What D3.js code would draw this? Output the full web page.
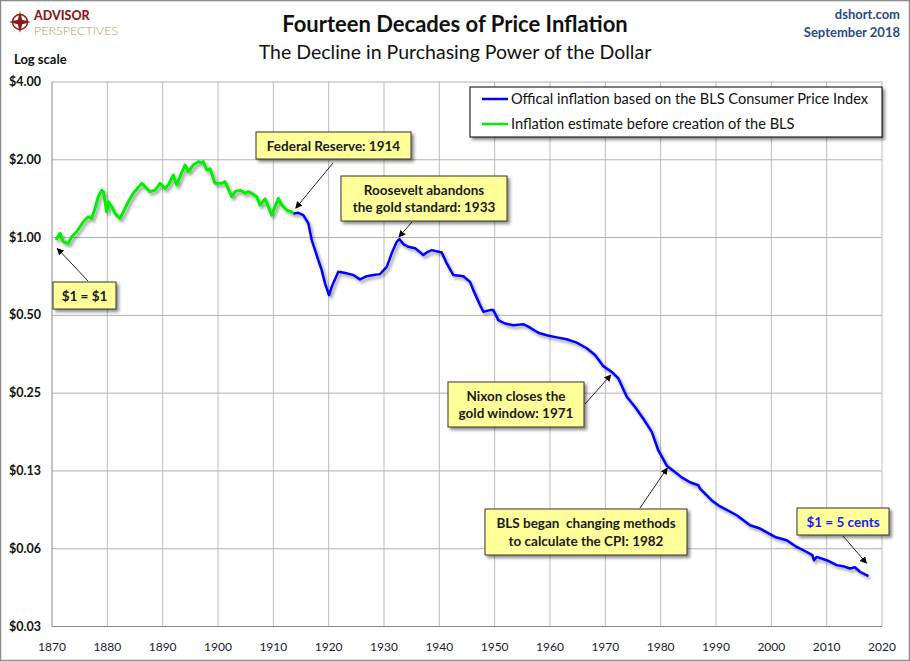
<!DOCTYPE html>
<html>
<head>
<meta charset="utf-8">
<script src="https://cdn.jsdelivr.net/npm/d3@7"></script>
<style>
  body { margin: 0; background: #fff; }
  svg { font-family: Lato, "Open Sans", sans-serif; }
</style>
</head>
<body>
<script>
// estimate before BLS (green)
const greenYears = [1870.7, 1871.45, 1872.04, 1872.95, 1873.56, 1874.46, 1875.66, 1876.56, 1877.17, 1877.77,
  1878.37, 1878.98, 1879.27, 1879.89, 1880.18, 1880.79, 1881.39, 1882.29, 1882.89, 1883.79, 1884.69,
  1886.21, 1887.12, 1887.71, 1888.62, 1889.52, 1890.42, 1891.02, 1891.92, 1892.54, 1893.13, 1894.04,
  1894.63, 1895.54, 1896.44, 1897.05, 1897.35, 1897.96, 1898.56, 1899.46, 1900.67, 1901.27, 1902.48,
  1903.07, 1903.98, 1904.88, 1905.48, 1906.09, 1906.99, 1907.59, 1908.5, 1909.71, 1910.9, 1911.52,
  1912.42, 1913.32, 1913.6];
const greenValues = [0.98, 1.038, 0.963, 0.949, 1.007, 1.053, 1.151, 1.204, 1.187, 1.297,
  1.439, 1.527, 1.51, 1.258, 1.376, 1.316, 1.24, 1.187, 1.258, 1.376, 1.484,
  1.621, 1.551, 1.505, 1.527, 1.621, 1.551, 1.597, 1.746, 1.597, 1.72, 1.908,
  1.798, 1.908, 1.966, 1.944, 1.966, 1.825, 1.846, 1.621, 1.621, 1.645, 1.439,
  1.505, 1.527, 1.484, 1.505, 1.484, 1.439, 1.336, 1.412, 1.222, 1.418, 1.336,
  1.278, 1.258, 1.24];

// official CPI based series (blue)
const blueYears = [1913.6, 1914.51, 1915.42, 1916.32, 1916.94, 1918.13, 1918.74, 1919.34, 1920.06, 1920.55,
  1921.74, 1923.26, 1924.45, 1925.67, 1926.88, 1928.07, 1929.28, 1930.49, 1931.39, 1932.3, 1932.77,
  1933.49, 1934.4, 1935.61, 1937.11, 1937.72, 1938.62, 1940.43, 1941.34, 1942.53, 1944.34, 1945.55,
  1946.14, 1947.35, 1947.95, 1949.16, 1949.76, 1950.66, 1951.87, 1953.37, 1955.18, 1956.08, 1957.89,
  1959.41, 1961.22, 1963.02, 1964.83, 1966.64, 1968.14, 1969.64, 1971.16, 1972.35, 1973.87, 1975.37,
  1976.87, 1978.39, 1979.58, 1981.1, 1982.29, 1983.81, 1985.31, 1986.81, 1987.11, 1989.23, 1990.42,
  1993.75, 1996.15, 1997.96, 2000.67, 2002.78, 2004.59, 2006.4, 2007.4, 2007.72, 2008.2, 2010.01,
  2011.82, 2012.96, 2014.2, 2015.1, 2016.0, 2017.55];
const blueValues = [1.24, 1.247, 1.222, 1.135, 0.978, 0.818, 0.748, 0.665, 0.599, 0.645,
  0.737, 0.727, 0.716, 0.689, 0.709, 0.716, 0.722, 0.77, 0.869, 0.963, 0.987,
  0.944, 0.921, 0.91, 0.856, 0.876, 0.894, 0.876, 0.794, 0.716, 0.708, 0.674,
  0.626, 0.548, 0.516, 0.524, 0.524, 0.479, 0.465, 0.458, 0.462, 0.452, 0.428,
  0.419, 0.411, 0.404, 0.392, 0.373, 0.351, 0.318, 0.302, 0.285, 0.242, 0.221,
  0.199, 0.177, 0.15, 0.131, 0.1253, 0.118, 0.113, 0.11, 0.1067, 0.0961, 0.092,
  0.0842, 0.077, 0.0748, 0.0694, 0.0674, 0.0635, 0.0607, 0.059, 0.0564, 0.0581, 0.0564,
  0.054, 0.0535, 0.0524, 0.053, 0.0509, 0.049];

const xTicks = [1870, 1880, 1890, 1900, 1910, 1920, 1930, 1940, 1950, 1960, 1970, 1980, 1990, 2000, 2010, 2020];
const yTicks = [4, 2, 1, 0.5, 0.25, 0.125, 0.0625, 0.03125];
const yTickLabels = ["$4.00", "$2.00", "$1.00", "$0.50", "$0.25", "$0.13", "$0.06", "$0.03"];

const legendLabels = ["Offical inflation based on the BLS Consumer Price Index", "Inflation estimate before creation of the BLS"];

// callouts: text lines, the year/value the arrow points at
const notes = [
  { lines: ["$1 = $1"], year: 1870.96, value: 0.908, box: [53, 282, 63, 27], from: [88, 281] },
  { lines: ["Federal Reserve: 1914"], year: 1914.05, value: 1.3, box: [256, 132, 155, 27], from: [333, 163] },
  { lines: ["Roosevelt abandons", "the gold standard: 1933"], year: 1932.7, value: 1.006, box: [341, 176, 166, 45], from: [412, 222] },
  { lines: ["Nixon closes the", "gold window: 1971"], year: 1971, value: 0.294, box: [448, 382, 136, 45], from: [585, 404] },
  { lines: ["BLS began  changing methods", "to calculate the CPI: 1982"], year: 1981.2, value: 0.1283, box: [485, 509, 202, 46], from: [640, 508] },
  { lines: ["$1 = 5 cents"], year: 2017.2, value: 0.0549, box: [797, 508, 92, 27], from: [843, 536], color: "#1a1aff" },
];

const W = 910, H = 661;
const svg = d3.select("body").append("svg").attr("width", W).attr("height", H);

const defs = svg.append("defs");
const shadow = defs.append("filter").attr("id", "shadow")
  .attr("x", "-10%").attr("y", "-10%").attr("width", "130%").attr("height", "140%");
shadow.append("feDropShadow").attr("dx", 2.5).attr("dy", 2.5).attr("stdDeviation", 1.6)
  .attr("flood-color", "#000").attr("flood-opacity", 0.45);
const lineShadow = defs.append("filter").attr("id", "lineShadow")
  .attr("x", "-5%").attr("y", "-5%").attr("width", "110%").attr("height", "110%");
lineShadow.append("feDropShadow").attr("dx", 2).attr("dy", 2.5).attr("stdDeviation", 1.5)
  .attr("flood-color", "#000").attr("flood-opacity", 0.4);
defs.append("marker").attr("id", "arrow").attr("viewBox", "0 0 10 10")
  .attr("refX", 9).attr("refY", 5).attr("markerWidth", 7).attr("markerHeight", 7)
  .attr("orient", "auto-start-reverse").attr("markerUnits", "userSpaceOnUse")
  .append("path").attr("d", "M0,0 L10,5 L0,10 z").attr("fill", "#000");

svg.append("rect").attr("x", 0.5).attr("y", 0.5).attr("width", W - 1).attr("height", H - 1)
  .attr("fill", "#fff").attr("stroke", "#8c8c8c").attr("stroke-width", 1.5);

const x = d3.scaleLinear().domain([1870, 2020]).range([52, 882]);
const y = d3.scaleLog().base(2).domain([0.03125, 4]).range([626.5, 82]);

// grid
svg.append("g").selectAll("line").data(xTicks.slice(1)).join("line")
  .attr("x1", d => x(d)).attr("x2", d => x(d)).attr("y1", 82).attr("y2", 626.5)
  .attr("stroke", "#bdbdbd").attr("stroke-width", 1);
svg.append("g").selectAll("line").data(yTicks.slice(0, -1)).join("line")
  .attr("x1", 52).attr("x2", 882).attr("y1", d => y(d)).attr("y2", d => y(d))
  .attr("stroke", "#b0b0b0").attr("stroke-width", 1);
svg.append("line").attr("x1", 52).attr("x2", 52).attr("y1", 82).attr("y2", 626.5).attr("stroke", "#888");
svg.append("line").attr("x1", 52).attr("x2", 882).attr("y1", 626.5).attr("y2", 626.5).attr("stroke", "#888");

// axes labels
svg.append("g").selectAll("text").data(yTicks).join("text")
  .attr("x", 41).attr("y", d => y(d) + 4).attr("text-anchor", "end")
  .attr("font-size", 12.5).attr("font-weight", "bold").attr("fill", "#111")
  .text((d, i) => yTickLabels[i]);
svg.append("g").selectAll("text").data(xTicks).join("text")
  .attr("x", d => x(d)).attr("y", 651).attr("text-anchor", "middle")
  .attr("font-size", 12).attr("fill", "#1a1a33")
  .text(d => d);

// lines
const line = d3.line().x(d => x(d[0])).y(d => y(d[1]));
svg.append("path").datum(blueYears.map((d, i) => [d, blueValues[i]]))
  .attr("d", line).attr("fill", "none").attr("stroke", "#0000ff").attr("stroke-width", 2.5)
  .attr("stroke-linejoin", "round").attr("filter", "url(#lineShadow)");
svg.append("path").datum(greenYears.map((d, i) => [d, greenValues[i]]))
  .attr("d", line).attr("fill", "none").attr("stroke", "#00ee00").attr("stroke-width", 3)
  .attr("stroke-linejoin", "round").attr("filter", "url(#lineShadow)");

// legend
const lg = svg.append("g");
lg.append("rect").attr("x", 470).attr("y", 87).attr("width", 412).attr("height", 50)
  .attr("fill", "#fff").attr("stroke", "#000").attr("stroke-width", 1).attr("filter", "url(#shadow)");
[["#0000ff", 99], ["#00ee00", 124]].forEach(([c, yy], i) => {
  lg.append("line").attr("x1", 482).attr("x2", 508).attr("y1", yy).attr("y2", yy)
    .attr("stroke", c).attr("stroke-width", 2.5);
  lg.append("text").attr("x", 511).attr("y", yy + 5).attr("font-size", 14.6).attr("fill", "#111")
    .text(legendLabels[i]);
});

// callouts
notes.forEach(n => {
  svg.append("line").attr("x1", n.from[0]).attr("y1", n.from[1])
    .attr("x2", x(n.year)).attr("y2", y(n.value))
    .attr("stroke", "#222").attr("stroke-width", 1).attr("marker-end", "url(#arrow)");
  const [bx, by, bw, bh] = n.box;
  svg.append("rect").attr("x", bx).attr("y", by).attr("width", bw).attr("height", bh)
    .attr("fill", "#ffff99").attr("stroke", "#333").attr("stroke-width", 1).attr("filter", "url(#shadow)");
  const t = svg.append("text").attr("text-anchor", "middle").attr("font-size", 13.5)
    .attr("font-weight", "bold").attr("fill", n.color || "#1a1a1a");
  const n0 = n.lines.length;
  n.lines.forEach((s, i) => {
    t.append("tspan").attr("x", bx + bw / 2)
      .attr("y", by + bh / 2 + 5 + (i - (n0 - 1) / 2) * 17.5)
      .attr("xml:space", "preserve").text(s);
  });
});

// titles
svg.append("text").attr("x", 455).attr("y", 32).attr("text-anchor", "middle")
  .attr("font-size", 22).attr("font-weight", "bold").attr("fill", "#111")
  .text("Fourteen Decades of Price Inflation");
svg.append("text").attr("x", 455).attr("y", 59).attr("text-anchor", "middle")
  .attr("font-size", 19.5).attr("fill", "#111")
  .text("The Decline in Purchasing Power of the Dollar");
svg.append("text").attr("x", 14).attr("y", 64).attr("font-size", 13).attr("font-weight", "bold")
  .attr("fill", "#111").text("Log scale");
svg.append("text").attr("x", 900).attr("y", 19).attr("text-anchor", "end").attr("font-size", 13)
  .attr("font-weight", "bold").attr("fill", "#2a4a8a").text("dshort.com");
svg.append("text").attr("x", 900).attr("y", 37).attr("text-anchor", "end").attr("font-size", 13)
  .attr("font-weight", "bold").attr("fill", "#2a4a8a").text("September 2018");

// logo
const logo = svg.append("g").attr("transform", "translate(20,22)");
logo.append("circle").attr("r", 7.5).attr("fill", "none").attr("stroke", "#8b1a1a").attr("stroke-width", 1.5);
logo.append("path").attr("d", "M0,-11 L2.2,-2.2 L11,0 L2.2,2.2 L0,11 L-2.2,2.2 L-11,0 L-2.2,-2.2 Z")
  .attr("fill", "#8b1a1a");
svg.append("text").attr("x", 34).attr("y", 20).attr("font-size", 12.5).attr("font-weight", "900")
  .attr("fill", "#8b1a1a").text("ADVISOR");
svg.append("text").attr("x", 34).attr("y", 35).attr("font-size", 12.5).attr("font-weight", "300")
  .attr("fill", "#b79a56").text("PERSPECTIVES");
</script>
</body>
</html>
